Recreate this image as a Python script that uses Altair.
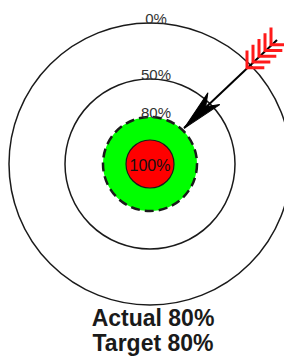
import altair as alt
import pandas as pd

# Target rings (radius in chart units, 1 unit ~ 1 px), outermost first
ring_labels = ["0%", "50%", "80%", "100%"]
ring_radius = [141, 85, 47, 24]
ring_fill = ["#ffffff", "#ffffff", "#00ff00", "#ff0000"]

# Arrow: tip (touching the 80% ring) and tail end
arrow_x = [34, 127]
arrow_y = [36, 124]
head_x = [49]
head_y = [50.5]
# Fletching chevrons along the tail
fletch_x = [97, 103, 109, 115, 121]
fletch_y = [96.2, 102, 107.7, 113.4, 119.2]

# Captions
caption_lines = ["Actual 80%", "Target 80%"]
caption_y = [-162, -187]

rings = pd.DataFrame({"label": ring_labels, "r": ring_radius,
                      "x": [0] * 4, "y": [0] * 4})
arrow = pd.DataFrame({"x": arrow_x, "y": arrow_y})
head = pd.DataFrame({"x": head_x, "y": head_y})
fletch = pd.DataFrame({"x": fletch_x, "y": fletch_y})
captions = pd.DataFrame({"text": caption_lines, "y": caption_y, "x": [3, 3]})

xs = alt.Scale(domain=[-142, 134], nice=False, zero=False)
ys = alt.Scale(domain=[-192, 156], nice=False, zero=False)
X = lambda: alt.X("x:Q", scale=xs, axis=None)
Y = lambda: alt.Y("y:Q", scale=ys, axis=None)
size_scale = alt.Scale(type="pow", exponent=2, domain=[0, 150], range=[0, 90000])
fill_scale = alt.Scale(domain=ring_labels, range=ring_fill)

base = alt.Chart(rings)

def ring_layer(lbl, dash=None, sw=1.5):
    kw = dict(filled=True, opacity=1, stroke="#1a1a1a", strokeWidth=sw, shape="circle")
    if dash:
        kw["strokeDash"] = dash
    return base.transform_filter(alt.datum.label == lbl).mark_point(**kw).encode(
        x=X(), y=Y(),
        size=alt.Size("r:Q", scale=size_scale, legend=None),
        fill=alt.Fill("label:N", scale=fill_scale, legend=None),
    )

outer = ring_layer("0%")
middle = ring_layer("50%")
green = ring_layer("80%", dash=[9, 5], sw=2.5)
red = ring_layer("100%", sw=1.2)

top_labels = base.transform_filter(alt.datum.label != "100%").mark_text(
    font="Liberation Sans", fontSize=15, color="#333333", baseline="alphabetic",
    align="center", dx=6, dy=1
).encode(x=X(), y=alt.Y("r:Q", scale=ys, axis=None), text="label:N")

center_label = base.transform_filter(alt.datum.label == "100%").mark_text(
    font="Liberation Sans", fontSize=16, color="#111111", baseline="middle", align="center", dy=2
).encode(x=X(), y=Y(), text="label:N")

shaft = alt.Chart(arrow).mark_line(color="#000000", strokeWidth=2).encode(x=X(), y=Y())

arrow_head = alt.Chart(head).mark_point(
    shape="M0,-1 L0.4,1 L0,0.45 L-0.4,1 Z", filled=True, opacity=1,
    fill="#000000", stroke="#000000", strokeWidth=1, angle=225, size=1764
).encode(x=X(), y=Y())

feathers = alt.Chart(fletch).mark_point(
    shape="M-1,-1 L0,0 L1,-1", filled=False, opacity=1,
    stroke="#ff1a1a", strokeWidth=3, angle=45, size=600
).encode(x=X(), y=Y())

caption = alt.Chart(captions).mark_text(
    font="Liberation Sans", fontSize=23, fontWeight="bold", color="#1a1a1a",
    baseline="alphabetic", align="center"
).encode(x=X(), y=Y(), text="text:N")

chart = alt.layer(
    outer, middle, green, red, top_labels, center_label,
    shaft, arrow_head, feathers, caption
).properties(
    width=276, height=348, padding=0, autosize=alt.AutoSizeParams(type="none")
).configure_view(stroke=None)

chart.save("out.html", embed_options={"renderer": "svg", "actions": False})
